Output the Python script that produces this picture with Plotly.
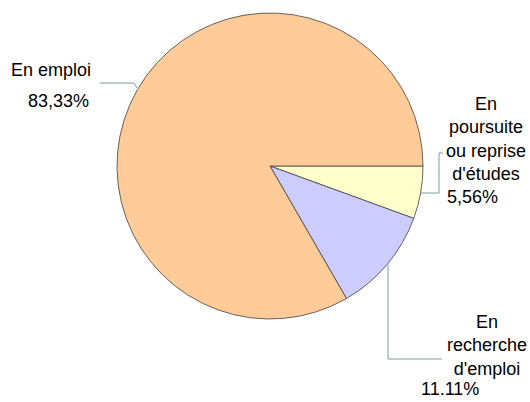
import plotly.graph_objects as go

W, H = 530, 402

labels = ["En poursuite ou reprise d'études", "En recherche d'emploi", "En emploi"]
values = [5.56, 11.11, 83.33]
colors = ["#FFFFCC", "#CCCCFF", "#FFCC99"]
label_texts = ["En<br>poursuite<br>ou reprise<br>d'études", "En<br>recherche<br>d'emploi", "En emploi"]
pct_texts = ["5,56%", "11.11%", "83,33%"]

def px(x):
    return x / W

def py(y):
    return 1 - y / H

fig = go.Figure(go.Pie(
    labels=labels, values=values, sort=False, direction="clockwise", rotation=90,
    marker=dict(colors=colors, line=dict(color="#404040", width=0.8)),
    textinfo="none", hoverinfo="label+percent", showlegend=False,
    domain=dict(x=[px(117), px(423)], y=[py(319), py(13)]),
))

line_col = "#7A9E97"
paths = [
    [(100, 83), (134, 83), (137, 88)],
    [(421, 193), (439, 193), (439, 153), (443, 153)],
    [(388, 265), (388, 359), (442, 359)],
]
shapes = []
for pts in paths:
    d = "M " + " L ".join(f"{px(x)} {py(y)}" for x, y in pts)
    shapes.append(dict(type="path", path=d, xref="paper", yref="paper",
                       line=dict(color=line_col, width=1)))

font = dict(family="Liberation Sans, Arial, sans-serif", size=18, color="black")
annotations = [
    dict(text=label_texts[2], x=px(93), y=py(70), xanchor="right", yanchor="middle", align="right"),
    dict(text=pct_texts[2], x=px(91), y=py(101), xanchor="right", yanchor="middle", align="right"),
    dict(text=label_texts[0], x=px(486), y=py(139), xanchor="center", yanchor="middle", align="center"),
    dict(text=pct_texts[0], x=px(445), y=py(197), xanchor="left", yanchor="middle", align="left"),
    dict(text=label_texts[1], x=px(487), y=py(345), xanchor="center", yanchor="middle", align="center"),
    dict(text=pct_texts[1], x=px(419), y=py(389), xanchor="left", yanchor="middle", align="left"),
]
for a in annotations:
    a.update(xref="paper", yref="paper", showarrow=False, font=font)

fig.update_layout(
    width=W, height=H, margin=dict(l=0, r=0, t=0, b=0),
    paper_bgcolor="white", plot_bgcolor="white",
    shapes=shapes, annotations=annotations,
)
fig.write_html("out.html", config={"displayModeBar": False},
               post_script="document.body.style.margin='0';document.body.style.overflow='hidden';")
